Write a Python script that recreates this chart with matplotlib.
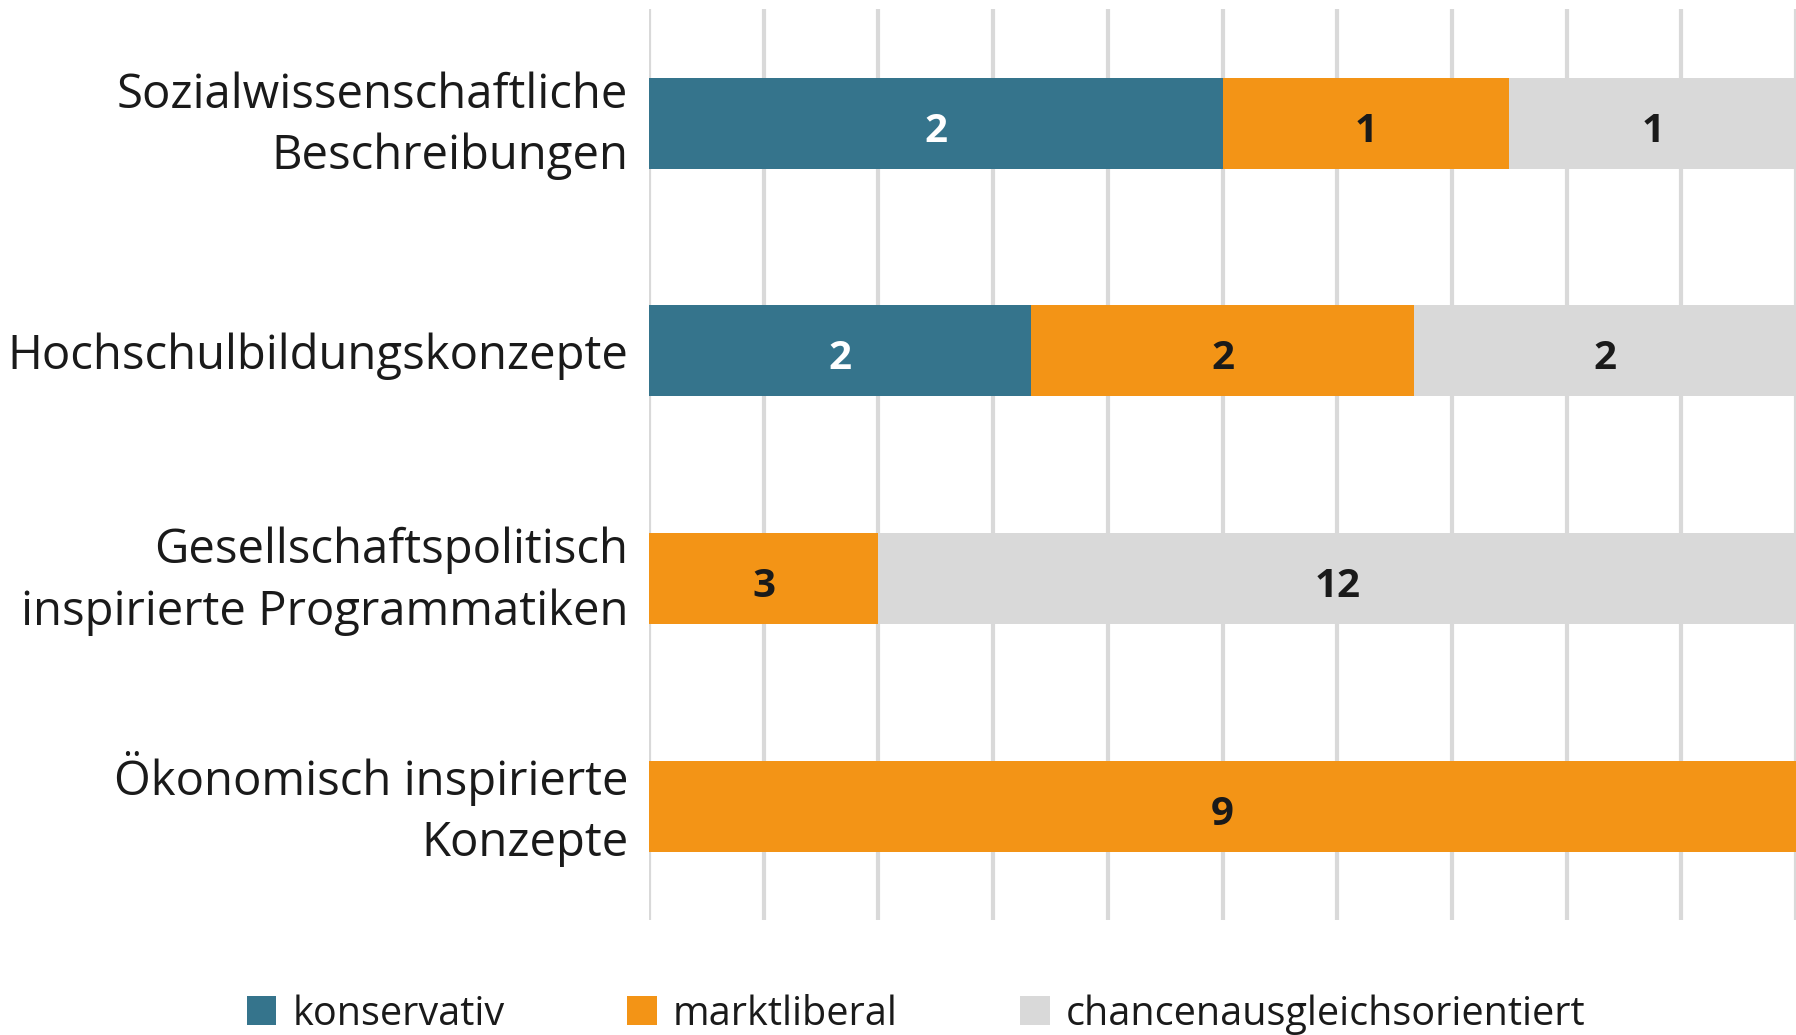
import matplotlib.pyplot as plt
import matplotlib.transforms as mtransforms
import numpy as np

categories = ['Sozialwissenschaftliche\nBeschreibungen', 'Hochschulbildungskonzepte',
              'Gesellschaftspolitisch\ninspirierte Programmatiken', 'Ökonomisch inspirierte\nKonzepte']
series = ['konservativ', 'marktliberal', 'chancenausgleichsorientiert']
konservativ = [2, 2, 0, 0]
marktliberal = [1, 2, 3, 9]
chancen = [1, 2, 12, 0]
colors = ['#35748c', '#f39416', '#d9d9d9']
text_colors = ['white', '#1a1a1a', '#1a1a1a']

plt.rcParams['font.family'] = ['Open Sans', 'DejaVu Sans']

counts = np.array([konservativ, marktliberal, chancen], dtype=float)
totals = counts.sum(axis=0)
shares = counts / totals * 100

fig = plt.figure(figsize=(17.96, 10.35), dpi=100)
ax = fig.add_axes([0.3614, 0.111, 0.6386, 0.88])
y = np.arange(len(categories))
left = np.zeros(len(categories))
for i, name in enumerate(series):
    ax.barh(y, shares[i], left=left, height=0.4, color=colors[i], label=name, zorder=3)
    for j in range(len(categories)):
        if counts[i, j] > 0:
            ax.text(left[j] + shares[i, j] / 2, y[j] + 0.035, '%d' % counts[i, j], ha='center', va='center',
                    fontsize=29, fontweight='bold', color=text_colors[i], zorder=4)
    left += shares[i]

ax.set_xlim(0, 100)
ax.set_ylim(3.5, -0.5)
ax.set_xticks(np.arange(0, 101, 10))
ax.xaxis.grid(True, color='#d9d9d9', linewidth=3, zorder=0)
ax.tick_params(axis='x', length=0, labelbottom=False)
ax.tick_params(axis='y', length=0, pad=15)
ax.set_yticks(y)
ax.set_yticklabels(categories, fontsize=34, color='#1a1a1a', linespacing=1.38)
for lab in ax.get_yticklabels():
    if '\n' in lab.get_text():
        lab.set_transform(lab.get_transform() + mtransforms.ScaledTranslation(0, 7 / 72, fig.dpi_scale_trans))
for s in ax.spines.values():
    s.set_visible(False)

fig.legend(loc='center', bbox_to_anchor=(0.51, 0.02), ncol=3, frameon=False, fontsize=28.5,
           handlelength=0.75, handleheight=0.75, handletextpad=0.4, columnspacing=3.1,
           labelcolor='#1a1a1a')

fig.savefig('out.png', dpi=100, facecolor='white')
